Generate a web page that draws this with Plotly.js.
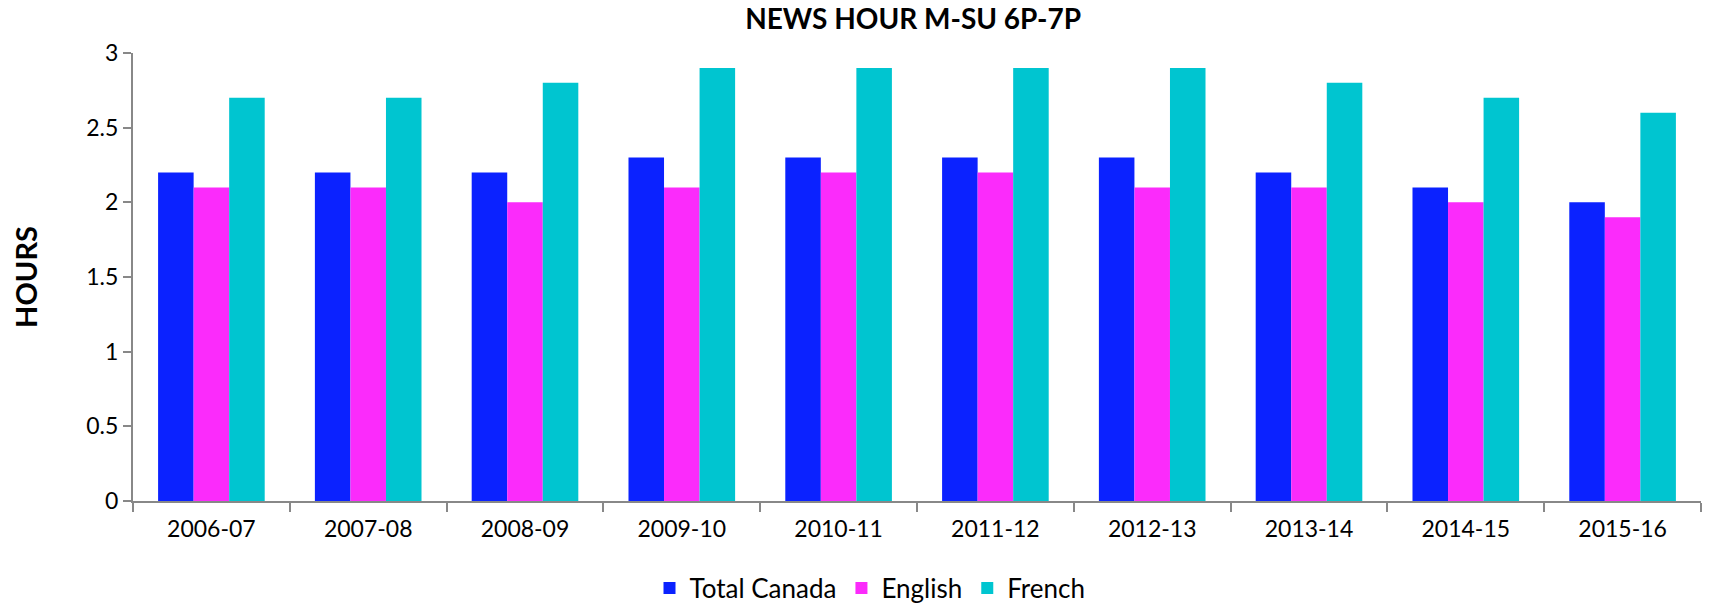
<!DOCTYPE html>
<html>
<head>
<meta charset="utf-8">
<script src="https://cdn.plot.ly/plotly-3.0.1.min.js"></script>
<style>html,body{margin:0;padding:0;background:#fff;} #chart{width:1710px;height:604px;}</style>
</head>
<body>
<div id="chart"></div>
<script>
const seasons = ["2006-07","2007-08","2008-09","2009-10","2010-11","2011-12","2012-13","2013-14","2014-15","2015-16"];
const totalCanada = [2.2, 2.2, 2.2, 2.3, 2.3, 2.3, 2.3, 2.2, 2.1, 2.0];
const english     = [2.1, 2.1, 2.0, 2.1, 2.2, 2.2, 2.1, 2.1, 2.0, 1.9];
const french      = [2.7, 2.7, 2.8, 2.9, 2.9, 2.9, 2.9, 2.8, 2.7, 2.6];
const yTicks = [0, 0.5, 1, 1.5, 2, 2.5, 3];
const yTickText = ["0", "0.5", "1", "1.5", "2", "2.5", "3"];

const FONT = "Lato, 'Open Sans', sans-serif";
const traces = [
  {type: "bar", name: "Total Canada", x: seasons, y: totalCanada, marker: {color: "#0B22FF"}},
  {type: "bar", name: "English", x: seasons, y: english, marker: {color: "#FB2BFB"}},
  {type: "bar", name: "French", x: seasons, y: french, marker: {color: "#00C5D0"}}
];
const layout = {
  width: 1710, height: 604,
  margin: {l: 133, r: 9, t: 53, b: 103},
  paper_bgcolor: "#fff", plot_bgcolor: "#fff",
  font: {family: FONT, color: "#000", size: 23},
  barmode: "group", bargap: 0.32, bargroupgap: 0,
  showlegend: true,
  title: {text: "<b>NEWS HOUR M-SU 6P-7P</b>", font: {family: FONT, size: 28, color: "#000"},
          x: 0.534, xanchor: "center", y: 0.968, yanchor: "middle", yref: "container"},
  xaxis: {
    type: "category", tickson: "boundaries", ticks: "outside", ticklen: 9, tickcolor: "#888", tickwidth: 2,
    showline: true, linecolor: "#888", linewidth: 2, showgrid: false, zeroline: false,
    tickfont: {family: FONT, size: 23, color: "#000"}, ticklabelstandoff: 6
  },
  yaxis: {
    range: [0, 3], tickvals: yTicks, ticktext: yTickText, ticks: "outside", ticklen: 8, tickcolor: "#888", tickwidth: 2,
    showline: true, linecolor: "#888", linewidth: 2, showgrid: false, zeroline: false,
    tickfont: {family: FONT, size: 23, color: "#000"},
    title: {text: "<b>HOURS</b>", font: {family: FONT, size: 29, color: "#000"}, standoff: 40}
  },
  legend: {orientation: "h", xref: "container", x: 870/1710, xanchor: "center", y: 1 - 588/604, yref: "container", yanchor: "middle",
           font: {family: FONT, size: 26, color: "#000"}, itemwidth: 30, traceorder: "normal"}
};
Plotly.newPlot("chart", traces, layout, {displayModeBar: false, staticPlot: true});
</script>
</body>
</html>
